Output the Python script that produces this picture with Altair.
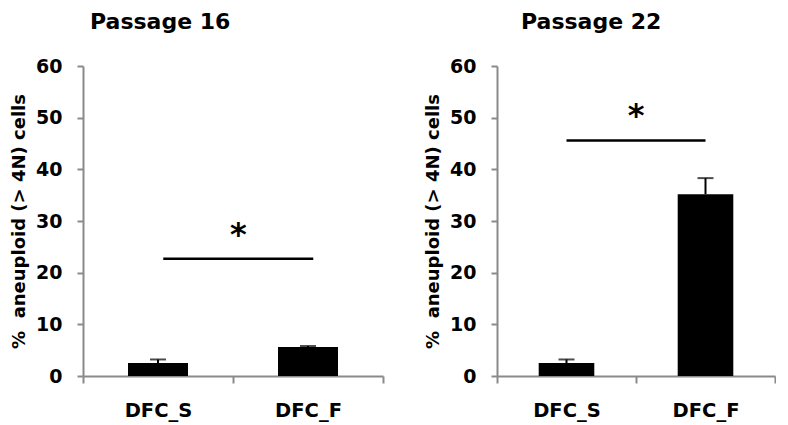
import altair as alt
import pandas as pd

categories = ["DFC_S", "DFC_F"]
p16_means = [2.5, 5.6]
p16_errors = [0.7, 0.2]
p22_means = [2.5, 35.2]
p22_errors = [0.7, 3.1]
titles = ["Passage 16", "Passage 22"]
sig_levels = [22.7, 45.6]
star_levels = [28.5, 51.5]
y_ticks = [0, 10, 20, 30, 40, 50, 60]
y_title = "%\u00a0 aneuploid (> 4N) cells"

FONT = "DejaVu Sans"
AXIS_GRAY = "#8a8a8a"


def panel(means, errs, title, sig, star, width, dx, band_shift):
    df = pd.DataFrame({
        "cat": categories,
        "mean": means,
        "top": [m + e for m, e in zip(means, errs)],
    })
    sig_df = pd.DataFrame({"a": [categories[0]], "b": [categories[1]], "y": [sig], "ys": [star], "t": ["*"]})

    xscale = alt.Scale(domain=categories, paddingInner=0, paddingOuter=0)
    yscale = alt.Scale(domain=[0, 60], nice=False)

    x = alt.X("cat:N", sort=categories, scale=xscale,
              axis=alt.Axis(title=None, labelAngle=0, tickBand="extent", labelFontSize=19.5,
                            labelFont=FONT, labelFontWeight="bold", labelColor="black",
                            labelPadding=18, tickSize=7, tickColor=AXIS_GRAY, tickWidth=2,
                            domainColor=AXIS_GRAY, domainWidth=2, grid=False))
    y = alt.Y("mean:Q", scale=yscale,
              axis=alt.Axis(title=y_title, values=y_ticks, labelFontSize=19, labelFont=FONT,
                            labelFontWeight="bold", labelColor="black", labelPadding=15,
                            tickSize=6, tickColor=AXIS_GRAY, tickWidth=2,
                            domainColor=AXIS_GRAY, domainWidth=2, grid=False,
                            titleFont=FONT, titleFontSize=18, titleFontWeight="bold",
                            titleColor="black", titlePadding=7))

    bars = alt.Chart(df).mark_bar(color="black", width=alt.RelativeBandSize(0.4)).encode(x=x, y=y)
    err = alt.Chart(df).mark_rule(color="black", strokeWidth=2).encode(
        x=alt.X("cat:N", sort=categories, scale=xscale),
        y=alt.Y("mean:Q", scale=yscale), y2="top:Q")
    cap = alt.Chart(df).mark_tick(color="black", thickness=2, size=16, orient="horizontal").encode(
        x=alt.X("cat:N", sort=categories, scale=xscale),
        y=alt.Y("top:Q", scale=yscale))
    line = alt.Chart(sig_df).mark_rule(color="black", strokeWidth=2.5).encode(
        x=alt.X("a:N", scale=xscale, bandPosition=0.5 + band_shift),
        x2=alt.X2("b:N", bandPosition=0.5 + band_shift),
        y=alt.Y("y:Q", scale=yscale))
    star_t = alt.Chart(sig_df).mark_text(color="black", font=FONT, fontWeight="bold",
                                         fontSize=32, baseline="middle", dy=6).encode(
        x=alt.X("b:N", scale=xscale, bandPosition=band_shift),
        y=alt.Y("ys:Q", scale=yscale),
        text="t:N")

    return alt.layer(bars, err, cap, line, star_t).properties(
        width=width, height=310,
        title=alt.TitleParams(title, anchor="start", frame="group", dx=dx, fontSize=22, font=FONT,
                              fontWeight="bold", color="black", offset=23),
    )


left = panel(p16_means, p16_errors, titles[0], sig_levels[0], star_levels[0], 300, 7, 0.035)
right = panel(p22_means, p22_errors, titles[1], sig_levels[1], star_levels[1], 278, 24, 0.0)

chart = alt.hconcat(left, right, spacing=40).properties(
    padding={"left": 2, "top": 3, "right": 0, "bottom": 10}
).configure_view(stroke=None)

chart.save("out.html", embed_options={"renderer": "svg", "actions": False})
